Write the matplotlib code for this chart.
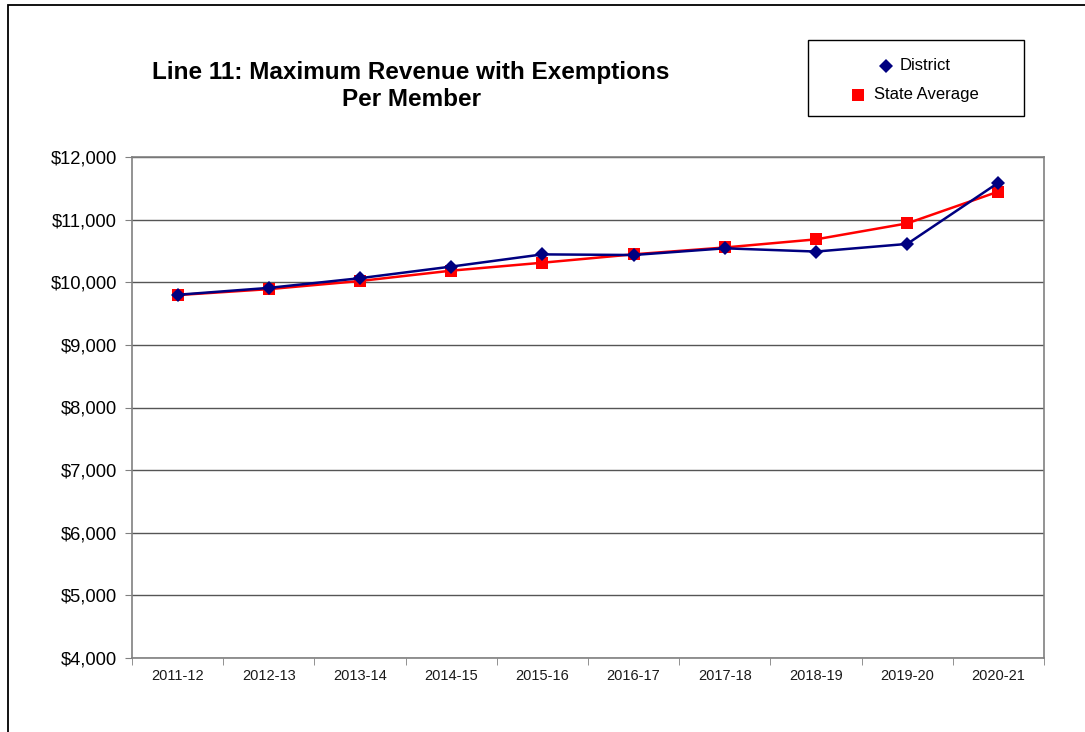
import matplotlib
matplotlib.use("Agg")
import matplotlib.pyplot as plt
from matplotlib.lines import Line2D
from matplotlib.patches import Rectangle
from matplotlib.ticker import FuncFormatter, MultipleLocator
import numpy as np

plt.rcParams['font.family'] = ['Liberation Sans', 'DejaVu Sans']

years = ['2011-12', '2012-13', '2013-14', '2014-15', '2015-16',
         '2016-17', '2017-18', '2018-19', '2019-20', '2020-21']
district = [9800, 9910, 10065, 10250, 10445, 10435, 10542, 10490, 10612, 11590]
state_avg = [9795, 9890, 10020, 10185, 10312, 10446, 10555, 10685, 10940, 11448]

W, H = 1085, 732
fig = plt.figure(figsize=(W / 100, H / 100), dpi=100)
ax = fig.add_axes([132 / W, 1 - 658 / H, (1044 - 132) / W, (658 - 157) / H])

x = np.arange(len(years))
ax.plot(x, state_avg, color='#ff0000', lw=1.8, marker='s', ms=9,
        markeredgewidth=0, zorder=3)
ax.plot(x, district, color='#000080', lw=1.8, marker='D', ms=7.5,
        markeredgewidth=0, zorder=4)

ax.set_xlim(-0.5, len(years) - 0.5)
ax.set_ylim(4000, 12000)
ax.yaxis.set_major_locator(MultipleLocator(1000))
ax.yaxis.set_major_formatter(FuncFormatter(lambda v, p: f"${v:,.0f}"))
ax.grid(axis='y', color='#555555', lw=1.0)
ax.set_axisbelow(True)

ax.set_xticks(x)
ax.set_xticklabels(years, fontsize=10.5, color='#1a1a1a')
ax.set_xticks(np.arange(-0.5, len(years)), minor=True)
ax.tick_params(axis='x', which='major', length=0, pad=8)
ax.tick_params(axis='x', which='minor', length=5, color='#808080')
ax.tick_params(axis='y', length=5, color='#808080', labelsize=13.2, pad=6)
for s in ax.spines.values():
    s.set_color('#808080')
    s.set_linewidth(1.2)

# title
fig.text(411 / W, 1 - 86 / H, "Line 11: Maximum Revenue with Exemptions\nPer Member",
         ha='center', va='center', fontsize=17.5, fontweight='bold',
         linespacing=1.25, multialignment='center')

# legend box
fig.add_artist(Rectangle((808 / W, 1 - 116 / H), (1024 - 808) / W, 76 / H,
                         transform=fig.transFigure, fill=False, ec='black', lw=1.0))
fig.add_artist(Line2D([886 / W], [1 - 66 / H], transform=fig.transFigure,
                      marker='D', ms=7.5, color='#000080', markeredgewidth=0))
fig.text(900 / W, 1 - 66 / H, "District", fontsize=12, va='center', ha='left')
fig.add_artist(Line2D([858 / W], [1 - 95 / H], transform=fig.transFigure,
                      marker='s', ms=9, color='#ff0000', markeredgewidth=0))
fig.text(874 / W, 1 - 95 / H, "State Average", fontsize=12, va='center', ha='left')

# outer border (open at right and bottom)
fig.add_artist(Rectangle((8 / W, -0.1), 1.2, 1.1 - 5 / H,
                         transform=fig.transFigure, fill=False, ec='black', lw=1.3))

fig.savefig("out.png", dpi=100)
